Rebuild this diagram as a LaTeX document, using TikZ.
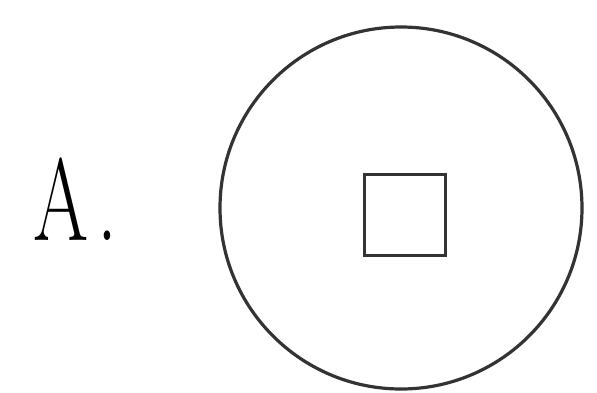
\documentclass[tikz,border=0pt]{standalone}
\begin{document}
\begin{tikzpicture}[x=1pt,y=-1pt,
  shapeline/.style={draw=black!80,line width=3.2pt},
  label/.style={font=\fontsize{117}{117}\selectfont,inner sep=0pt,xscale=0.68,anchor=base west}]
\useasboundingbox (0,0) rectangle (597,392);
\node[label] (lab) at (33,240) {A\kern13pt.};
\node[shapeline,circle,minimum size=362pt,inner sep=0pt] (c) at (401,208) {};
\node[shapeline,rectangle,minimum width=81pt,minimum height=81pt,inner sep=0pt] (sq) at (405,215) {};
\end{tikzpicture}
\end{document}
